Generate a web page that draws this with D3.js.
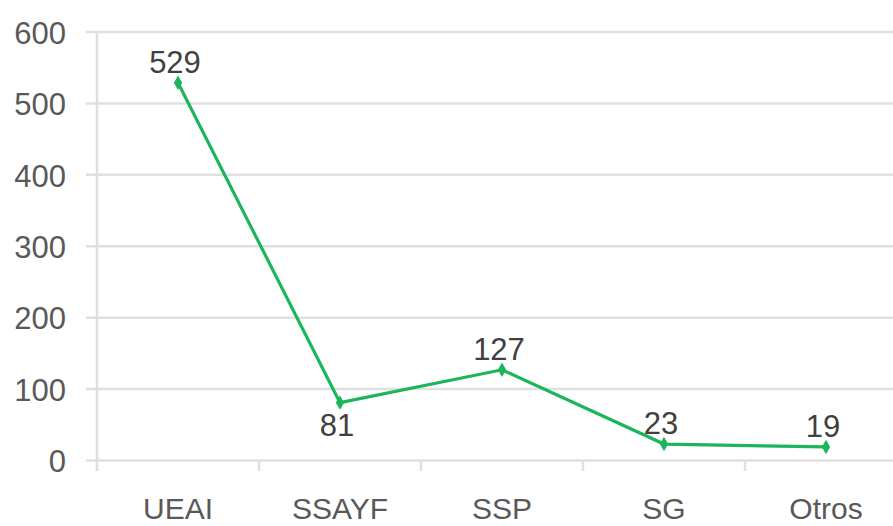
<!DOCTYPE html>
<html>
<head>
<meta charset="utf-8">
<title>Line chart</title>
<script src="https://d3js.org/d3.v7.min.js"></script>
<style>
  body { margin: 0; background: #fff; }
  svg text { font-family: "Liberation Sans", Arial, sans-serif; }
</style>
</head>
<body>
<svg id="chart" width="893" height="526"></svg>
<script>
// data
var categories = ["UEAI", "SSAYF", "SSP", "SG", "Otros"];
var values = [529, 81, 127, 23, 19];
var yTicks = [0, 100, 200, 300, 400, 500, 600];
// label above (-1) or below (+1) the point
var labelSide = [-1, 1, -1, -1, -1];

var svg = d3.select("#chart");

var x = d3.scaleBand().domain(categories).range([97, 907]);
var y = d3.scaleLinear().domain([0, 600]).range([460.5, 32]);

// gridlines
svg.append("g").selectAll("line").data(yTicks).enter().append("line")
  .attr("x1", 86).attr("x2", 893)
  .attr("y1", function(d) { return y(d); }).attr("y2", function(d) { return y(d); })
  .style("stroke", "#e0e0e0").style("stroke-width", 2.5);

// vertical axis line
svg.append("line").attr("x1", 97).attr("x2", 97).attr("y1", 32).attr("y2", 470)
  .style("stroke", "#e0e0e0").style("stroke-width", 2.5);

// y axis labels
var yAxis = svg.append("g").attr("transform", "translate(66,0)")
  .call(d3.axisLeft(y).tickValues(yTicks).tickSize(0).tickPadding(0));
yAxis.select(".domain").remove();
yAxis.selectAll("text").style("font-size", "31px").style("fill", "#595959")
  .attr("dy", "0.36em");

// x axis: ticks at band edges, labels at centers
var edges = categories.map(function(c) { return x(c); });
svg.append("g").selectAll("line").data(edges).enter().append("line")
  .attr("x1", function(d) { return d; }).attr("x2", function(d) { return d; })
  .attr("y1", 460).attr("y2", 471)
  .style("stroke", "#e0e0e0").style("stroke-width", 2.5);

svg.append("g").selectAll("text").data(categories).enter().append("text")
  .attr("x", function(d) { return x(d) + x.bandwidth() / 2; })
  .attr("y", 519)
  .attr("text-anchor", "middle")
  .style("font-size", "30px").style("fill", "#595959")
  .text(function(d) { return d; });

// the line
var pts = categories.map(function(c, i) {
  return { cat: c, val: values[i], side: labelSide[i] };
});
var line = d3.line()
  .x(function(d) { return x(d.cat) + x.bandwidth() / 2; })
  .y(function(d) { return y(d.val); });

svg.append("path").datum(pts).attr("d", line)
  .style("fill", "none").style("stroke", "#1db55c").style("stroke-width", 3.2);

svg.append("g").selectAll("path").data(pts).enter().append("path")
  .attr("d", d3.symbol().type(d3.symbolDiamond).size(60))
  .attr("transform", function(d) {
    return "translate(" + (x(d.cat) + x.bandwidth() / 2) + "," + y(d.val) + ")";
  })
  .style("fill", "#1db55c");

// data labels
svg.append("g").selectAll("text").data(pts).enter().append("text")
  .attr("x", function(d) { return x(d.cat) + x.bandwidth() / 2 - 3; })
  .attr("y", function(d) { return y(d.val) + (d.side < 0 ? -10 : 33); })
  .attr("text-anchor", "middle")
  .style("font-size", "31px").style("fill", "#404040")
  .text(function(d) { return d.val; });
</script>
</body>
</html>
